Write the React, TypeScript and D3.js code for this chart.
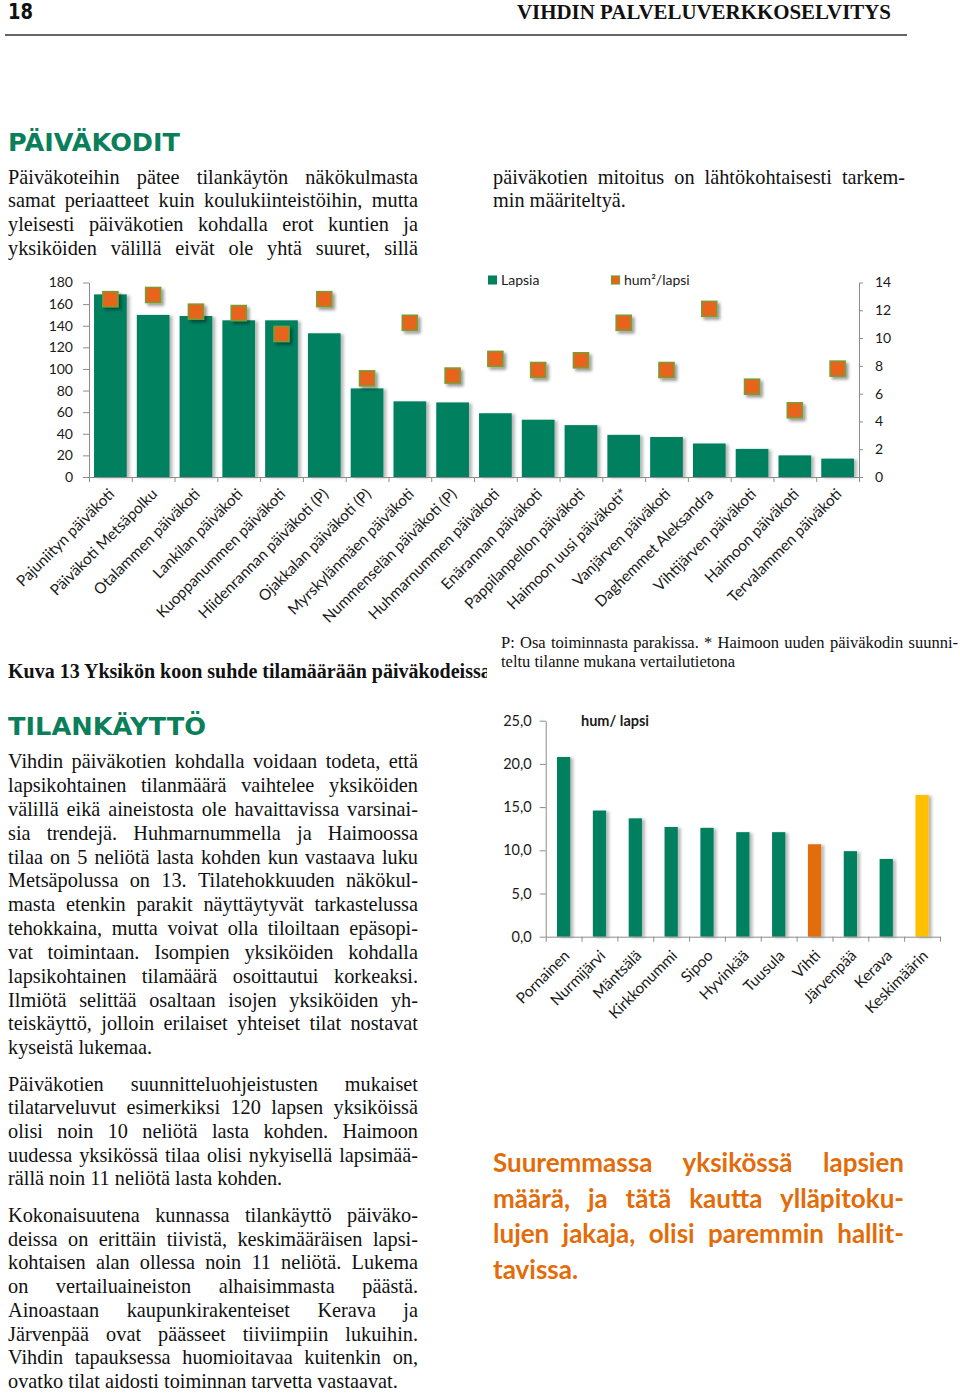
import React, { useRef, useEffect } from 'react';
import * as d3 from 'd3';

// --- Kuva 13: päiväkotien koko ja tila per lapsi ---
const unitNames = [
  'Pajuniityn päiväkoti',
  'Päiväkoti Metsäpolku',
  'Otalammen päiväkoti',
  'Lankilan päiväkoti',
  'Kuoppanummen päiväkoti',
  'Hiidenrannan päiväkoti (P)',
  'Ojakkalan päiväkoti (P)',
  'Myrskylänmäen päiväkoti',
  'Nummenselän päiväkoti (P)',
  'Huhmarnummen päiväkoti',
  'Enärannan päiväkoti',
  'Pappilanpellon päiväkoti',
  'Haimoon uusi päiväkoti*',
  'Vanjärven päiväkoti',
  'Daghemmet Aleksandra',
  'Vihtijärven päiväkoti',
  'Haimoon päiväkoti',
  'Tervalammen päiväkoti',
];
const childCounts = [169, 150, 149, 145, 145, 133, 82, 70, 69, 59, 53, 48, 39, 37, 31, 26, 20, 17];
const areaPerChild = [12.8, 13.1, 11.9, 11.8, 10.3, 12.8, 7.1, 11.1, 7.3, 8.5, 7.7, 8.4, 11.1, 7.7, 12.1, 6.5, 4.8, 7.8];
const childTicks = [0, 20, 40, 60, 80, 100, 120, 140, 160, 180];
const areaTicks = [0, 2, 4, 6, 8, 10, 12, 14];

// --- vertailukunnat hum/lapsi ---
const municipalities = ['Pornainen', 'Nurmijärvi', 'Mäntsälä', 'Kirkkonummi', 'Sipoo', 'Hyvinkää', 'Tuusula', 'Vihti', 'Järvenpää', 'Kerava', 'Keskimäärin'];
const municipalArea = [20.8, 14.6, 13.7, 12.7, 12.6, 12.1, 12.1, 10.7, 9.9, 9.0, 16.4];
const municipalTicks = [0, 5, 10, 15, 20, 25];

// --- page texts ---
const introLeft = [
  'Päiväkoteihin pätee tilankäytön näkökulmasta',
  'samat periaatteet kuin koulukiinteistöihin, mutta',
  'yleisesti päiväkotien kohdalla erot kuntien ja',
  'yksiköiden välillä eivät ole yhtä suuret, sillä',
];
const introRight = ['päiväkotien mitoitus on lähtökohtaisesti tarkem-', 'min määriteltyä.'];
const usageLines = [
  'Vihdin päiväkotien kohdalla voidaan todeta, että',
  'lapsikohtainen tilanmäärä vaihtelee yksiköiden',
  'välillä eikä aineistosta ole havaittavissa varsinai-',
  'sia trendejä. Huhmarnummella ja Haimoossa',
  'tilaa on 5 neliötä lasta kohden kun vastaava luku',
  'Metsäpolussa on 13. Tilatehokkuuden näkökul-',
  'masta etenkin parakit näyttäytyvät tarkastelussa',
  'tehokkaina, mutta voivat olla tiloiltaan epäsopi-',
  'vat toimintaan. Isompien yksiköiden kohdalla',
  'lapsikohtainen tilamäärä osoittautui korkeaksi.',
  'Ilmiötä selittää osaltaan isojen yksiköiden yh-',
  'teiskäyttö, jolloin erilaiset yhteiset tilat nostavat',
  'kyseistä lukemaa.',
];
const normLines = [
  'Päiväkotien suunnitteluohjeistusten mukaiset',
  'tilatarveluvut esimerkiksi 120 lapsen yksiköissä',
  'olisi noin 10 neliötä lasta kohden. Haimoon',
  'uudessa yksikössä tilaa olisi nykyisellä lapsimää-',
  'rällä noin 11 neliötä lasta kohden.',
];
const wholeLines = [
  'Kokonaisuutena kunnassa tilankäyttö päiväko-',
  'deissa on erittäin tiivistä, keskimääräisen lapsi-',
  'kohtaisen alan ollessa noin 11 neliötä. Lukema',
  'on vertailuaineiston alhaisimmasta päästä.',
  'Ainoastaan kaupunkirakenteiset Kerava ja',
  'Järvenpää ovat päässeet tiiviimpiin lukuihin.',
  'Vihdin tapauksessa huomioitavaa kuitenkin on,',
  'ovatko tilat aidosti toiminnan tarvetta vastaavat.',
];
const noteLines = ['P: Osa toiminnasta parakissa. * Haimoon uuden päiväkodin suunni-', 'teltu tilanne mukana vertailutietona'];
const highlightLines = ['Suuremmassa yksikössä lapsien', 'määrä, ja tätä kautta ylläpitoku-', 'lujen jakaja, olisi paremmin hallit-', 'tavissa.'];

const GREEN = '#00805e';
const ORANGE = '#e8641b';
const OLIVE = '#7f9a35';
const AXIS = '#8c8c8c';
const SERIF = '"Liberation Serif", "Times New Roman", serif';
const SANS = 'Lato, "Open Sans", sans-serif';

type Block = {
  lines: string[];
  x: number;
  y: number;
  lh: number;
  width: number;
  size: number;
  family: string;
  weight?: string;
  fill?: string;
  justifyLast?: boolean;
};

function textBlock(parent: d3.Selection<SVGGElement, unknown, null, undefined>, b: Block) {
  b.lines.forEach((line, i) => {
    const t = parent
      .append('text')
      .attr('x', b.x)
      .attr('y', b.y + i * b.lh)
      .attr('font-family', b.family)
      .attr('font-size', b.size)
      .attr('font-weight', b.weight || 'normal')
      .attr('fill', b.fill || '#111');
    const justify = i < b.lines.length - 1 || b.justifyLast;
    const words = line.split(' ');
    if (!justify || words.length < 2) {
      t.text(line);
      return;
    }
    const spans = words.map((w) => t.append('tspan').text(w));
    const widths = spans.map((s) => (s.node() as SVGTSpanElement).getComputedTextLength());
    const gap = (b.width - d3.sum(widths)) / (words.length - 1);
    let cx = b.x;
    spans.forEach((s, k) => {
      s.attr('x', cx);
      cx += widths[k] + gap;
    });
  });
}

export default function App() {
  const svgRef = useRef<SVGSVGElement | null>(null);

  useEffect(() => {
    const draw = () => {
      if (!svgRef.current) return;
      const svg = d3.select(svgRef.current);
      svg.selectAll('*').remove();

      const defs = svg.append('defs');
      const barShadow = defs.append('filter').attr('id', 'barShadow').attr('x', '-30%').attr('y', '-10%').attr('width', '180%').attr('height', '130%');
      barShadow.append('feDropShadow').attr('dx', 3).attr('dy', 1).attr('stdDeviation', 1.8).attr('flood-color', '#000').attr('flood-opacity', 0.28);
      const dotShadow = defs.append('filter').attr('id', 'dotShadow').attr('x', '-50%').attr('y', '-50%').attr('width', '220%').attr('height', '220%');
      dotShadow.append('feDropShadow').attr('dx', 2.5).attr('dy', 2.5).attr('stdDeviation', 1.6).attr('flood-color', '#000').attr('flood-opacity', 0.4);
      defs.append('clipPath').attr('id', 'leftCol').append('rect').attr('x', 0).attr('y', 600).attr('width', 487).attr('height', 100);

      const page = svg.append('g');

      // header
      page.append('text').attr('x', 8).attr('y', 19).attr('font-family', '"DejaVu Sans Condensed", "DejaVu Sans", sans-serif')
        .attr('font-stretch', 'condensed').attr('font-weight', 'bold').attr('font-size', 21).attr('fill', '#111')
        .attr('textLength', 25).attr('lengthAdjust', 'spacingAndGlyphs').text('18');
      page.append('text').attr('x', 517).attr('y', 19).attr('font-family', SERIF).attr('font-weight', 'bold').attr('font-size', 21)
        .attr('fill', '#111').attr('textLength', 374).attr('lengthAdjust', 'spacingAndGlyphs').text('VIHDIN PALVELUVERKKOSELVITYS');
      page.append('line').attr('x1', 5).attr('x2', 907).attr('y1', 35).attr('y2', 35).attr('stroke', '#333').attr('stroke-width', 1.4);

      // headings
      page.append('text').attr('x', 8).attr('y', 151).attr('font-family', '"DejaVu Sans", sans-serif').attr('font-weight', 'bold')
        .attr('font-size', 25.5).attr('fill', '#0a7f5a').attr('textLength', 172).attr('lengthAdjust', 'spacingAndGlyphs').text('PÄIVÄKODIT');
      page.append('text').attr('x', 8).attr('y', 735).attr('font-family', '"DejaVu Sans", sans-serif').attr('font-weight', 'bold')
        .attr('font-size', 25.5).attr('fill', '#0a7f5a').attr('textLength', 198).attr('lengthAdjust', 'spacingAndGlyphs').text('TILANKÄYTTÖ');

      // body text
      textBlock(page, { lines: introLeft, x: 8, y: 183.5, lh: 23.8, width: 410, size: 20.3, family: SERIF, justifyLast: true });
      textBlock(page, { lines: introRight, x: 493, y: 183.5, lh: 23.8, width: 412, size: 20.3, family: SERIF });
      textBlock(page, { lines: usageLines, x: 8, y: 768.3, lh: 23.83, width: 410, size: 20.3, family: SERIF });
      textBlock(page, { lines: normLines, x: 8, y: 1090.7, lh: 23.65, width: 410, size: 20.3, family: SERIF });
      textBlock(page, { lines: wholeLines, x: 8, y: 1222, lh: 23.7, width: 410, size: 20.3, family: SERIF });
      textBlock(page, { lines: noteLines, x: 501, y: 648, lh: 19, width: 457, size: 16.5, family: SERIF });
      textBlock(page, { lines: highlightLines, x: 493, y: 1172, lh: 35.5, width: 411, size: 26, family: SANS, weight: 'bold', fill: '#e36c0a' });

      page.append('text').attr('x', 8).attr('y', 678).attr('font-family', SERIF).attr('font-weight', 'bold').attr('font-size', 20)
        .attr('fill', '#111').attr('clip-path', 'url(#leftCol)').text('Kuva 13 Yksikön koon suhde tilamäärään päiväkodeissa');

      // ---------- chart 1 ----------
      const c1 = svg.append('g');
      const left = 89, right = 859, top = 282.5, base = 477;
      const x1 = d3.scaleBand<string>().domain(unitNames).range([left, right]).paddingInner(0.235).paddingOuter(0.1175);
      const yL = d3.scaleLinear().domain([0, 180]).range([base, top]);
      const yR = d3.scaleLinear().domain([0, 14]).range([base, top]);

      c1.append('g').selectAll('rect').data(unitNames).join('rect')
        .attr('x', (d) => x1(d)!)
        .attr('y', (_, i) => yL(childCounts[i]))
        .attr('width', x1.bandwidth())
        .attr('height', (_, i) => base - yL(childCounts[i]))
        .attr('fill', GREEN)
        .attr('filter', 'url(#barShadow)');

      const ms = 15;
      c1.append('g').selectAll('rect').data(unitNames).join('rect')
        .attr('x', (d) => x1(d)! + x1.bandwidth() / 2 - ms / 2)
        .attr('y', (_, i) => yR(areaPerChild[i]) - ms / 2)
        .attr('width', ms)
        .attr('height', ms)
        .attr('fill', ORANGE)
        .attr('stroke', OLIVE)
        .attr('stroke-width', 1.6)
        .attr('filter', 'url(#dotShadow)');

      const styleAxis = (g: d3.Selection<SVGGElement, unknown, null, undefined>, size: number) => {
        g.select('.domain').attr('stroke', AXIS);
        g.selectAll('.tick line').attr('stroke', AXIS);
        g.selectAll('.tick text').attr('font-family', SANS).attr('font-size', size).attr('fill', '#1a1a1a');
      };

      c1.append('g').attr('transform', `translate(${left},0)`)
        .call(d3.axisLeft(yL).tickValues(childTicks).tickSize(6).tickSizeOuter(0).tickPadding(10))
        .call((g) => styleAxis(g, 14));
      c1.append('g').attr('transform', `translate(${right},0)`)
        .call(d3.axisRight(yR).tickValues(areaTicks).tickSize(4).tickSizeOuter(0).tickPadding(12))
        .call((g) => styleAxis(g, 14));
      const slots1 = d3.scaleLinear().domain([0, unitNames.length]).range([left, right]);
      c1.append('g').attr('transform', `translate(0,${base})`)
        .call(d3.axisBottom(slots1).tickValues(d3.range(unitNames.length + 1)).tickFormat(() => '').tickSize(5).tickSizeOuter(0))
        .call((g) => styleAxis(g, 13));

      c1.append('g').selectAll('text').data(unitNames).join('text')
        .attr('transform', (d) => `translate(${x1(d)! + x1.bandwidth() / 2 + 5},${base + 18}) rotate(-45)`)
        .attr('text-anchor', 'end')
        .attr('font-family', SANS)
        .attr('font-size', 15.3)
        .attr('fill', '#1a1a1a')
        .text((d) => d);

      // legend
      const lg = c1.append('g').attr('font-family', SANS).attr('font-size', 14).attr('fill', '#1a1a1a');
      lg.append('rect').attr('x', 488).attr('y', 275.5).attr('width', 9).attr('height', 9).attr('fill', GREEN);
      lg.append('text').attr('x', 501).attr('y', 285).text('Lapsia');
      lg.append('rect').attr('x', 611.5).attr('y', 276).attr('width', 8).attr('height', 8).attr('fill', ORANGE).attr('stroke', OLIVE).attr('stroke-width', 1.2);
      lg.append('text').attr('x', 624).attr('y', 285).text('hum²/lapsi');

      // ---------- chart 2 ----------
      const c2 = svg.append('g');
      const l2 = 545.7, r2 = 940, t2 = 720.7, b2 = 936.7;
      const x2 = d3.scaleBand<string>().domain(municipalities).range([l2, r2]).paddingInner(0.63).paddingOuter(0.315);
      const y2 = d3.scaleLinear().domain([0, 25]).range([b2, t2]);
      const barColor = (name: string) => (name === 'Vihti' ? '#e36c0a' : name === 'Keskimäärin' ? '#ffc000' : GREEN);

      c2.append('g').selectAll('rect').data(municipalities).join('rect')
        .attr('x', (d) => x2(d)!)
        .attr('y', (_, i) => y2(municipalArea[i]))
        .attr('width', x2.bandwidth())
        .attr('height', (_, i) => b2 - y2(municipalArea[i]))
        .attr('fill', (d) => barColor(d))
        .attr('filter', 'url(#barShadow)');

      const fmt = (v: number) => d3.format('.1f')(v).replace('.', ',');
      c2.append('g').attr('transform', `translate(${l2},0)`)
        .call(d3.axisLeft(y2).tickValues(municipalTicks).tickFormat((d) => fmt(+d)).tickSize(6).tickSizeOuter(0).tickPadding(8))
        .call((g) => styleAxis(g, 14.5));
      const slots2 = d3.scaleLinear().domain([0, municipalities.length]).range([l2, r2]);
      c2.append('g').attr('transform', `translate(0,${b2})`)
        .call(d3.axisBottom(slots2).tickValues(d3.range(municipalities.length + 1)).tickFormat(() => '').tickSize(5).tickSizeOuter(0))
        .call((g) => styleAxis(g, 13));

      c2.append('g').selectAll('text').data(municipalities).join('text')
        .attr('transform', (d) => `translate(${x2(d)! + x2.bandwidth() / 2 + 7},${b2 + 20}) rotate(-45)`)
        .attr('text-anchor', 'end')
        .attr('font-family', SANS)
        .attr('font-size', 15.3)
        .attr('fill', '#1a1a1a')
        .text((d) => d);

      c2.append('text').attr('x', 581).attr('y', 726).attr('font-family', SANS).attr('font-weight', 'bold')
        .attr('font-size', 14.5).attr('fill', '#1a1a1a').text('hum/ lapsi');
    };

    draw();
    if (document.fonts) document.fonts.ready.then(draw);
  }, []);

  return (
    <svg
      ref={svgRef}
      width={960}
      height={1393}
      viewBox="0 0 960 1393"
      style={{ position: 'absolute', left: 0, top: 0, background: '#fff' }}
    />
  );
}
